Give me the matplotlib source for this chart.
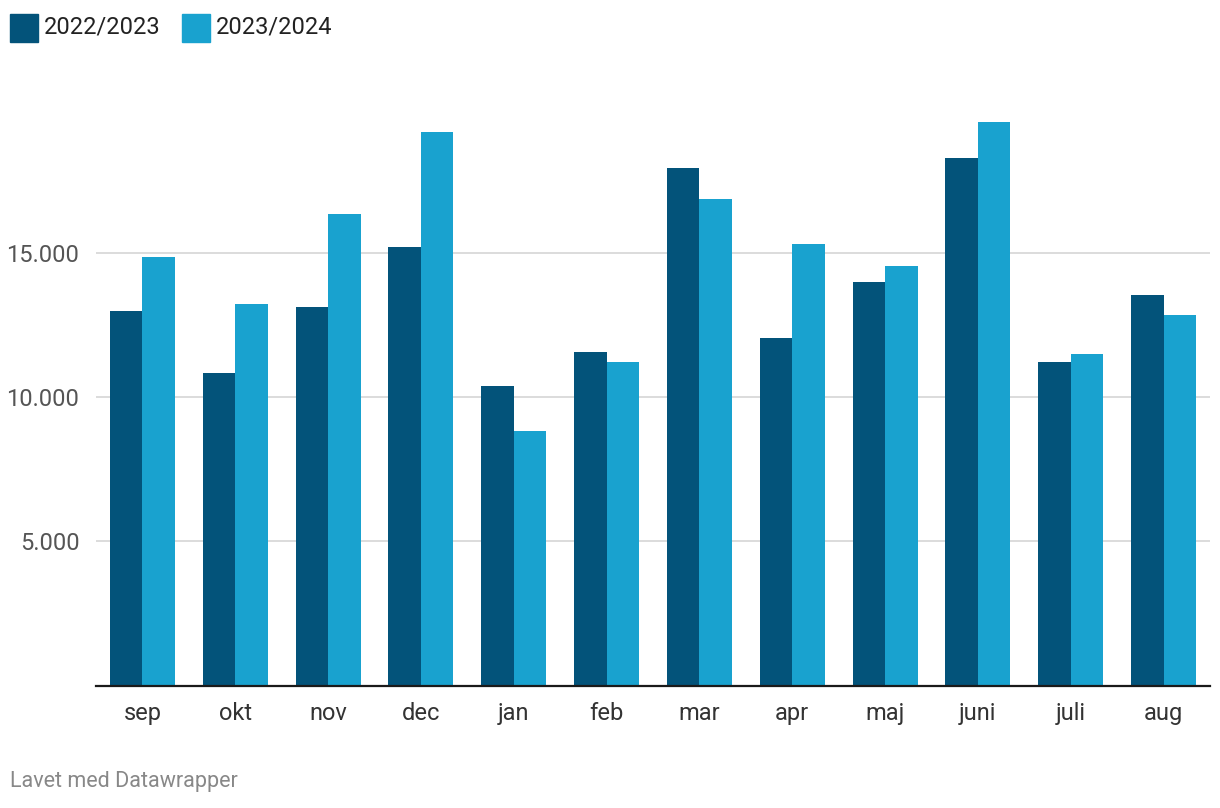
import matplotlib.pyplot as plt
import numpy as np
from matplotlib.patches import Rectangle

plt.rcParams['font.family'] = ['Roboto', 'DejaVu Sans']

# data
months = ['sep', 'okt', 'nov', 'dec', 'jan', 'feb', 'mar', 'apr', 'maj', 'juni', 'juli', 'aug']
season_2223 = [12980, 10830, 13120, 15200, 10380, 11560, 17940, 12040, 13990, 18280, 11210, 13530]
season_2324 = [14850, 13220, 16340, 19180, 8820, 11210, 16860, 15300, 14540, 19530, 11490, 12840]
series_names = ['2022/2023', '2023/2024']
yticks = [5000, 10000, 15000]
ytick_labels = ['5.000', '10.000', '15.000']

dark = '#03537a'
light = '#19a2cf'

W, H = 1220, 808
fig = plt.figure(figsize=(W / 100, H / 100), dpi=100)
ax = fig.add_axes([96 / W, (H - 685.5) / H, (1210 - 96) / W, (685.5 - 108.5) / H])

x = np.arange(len(months))
bw = 0.35
ax.bar(x - bw / 2, season_2223, width=bw, color=dark, zorder=2)
ax.bar(x + bw / 2, season_2324, width=bw, color=light, zorder=2)

ax.set_xlim(-0.5, len(months) - 0.5)
ax.set_ylim(0, 20000)
ax.set_yticks(yticks)
ax.set_yticklabels(ytick_labels)
ax.set_xticks(x)
ax.set_xticklabels(months)
ax.yaxis.grid(True, color='#d9d9d9', linewidth=1.3, zorder=0)
ax.tick_params(axis='y', length=0, pad=12, labelsize=17, labelcolor='#555555')
ax.tick_params(axis='x', length=0, pad=12, labelsize=17, labelcolor='#333333')
for s in ['top', 'right', 'left']:
    ax.spines[s].set_visible(False)
ax.spines['bottom'].set_color('#1a1a1a')
ax.spines['bottom'].set_linewidth(1.6)
ax.spines['bottom'].set_zorder(3)

# legend
sq = 28
for i, (name, c) in enumerate(zip(series_names, [dark, light])):
    x0 = [10, 182][i]
    fig.patches.append(Rectangle((x0 / W, (H - 42) / H), sq / W, sq / H,
                                 transform=fig.transFigure, color=c))
    fig.text((x0 + 34) / W, (H - 27) / H, name, fontsize=17, color='#222222',
             va='center', ha='left')

fig.text(10 / W, (H - 782) / H, 'Lavet med Datawrapper', fontsize=15.5,
         color='#888888', va='center', ha='left')

fig.savefig('out.png', dpi=100, facecolor='white')
